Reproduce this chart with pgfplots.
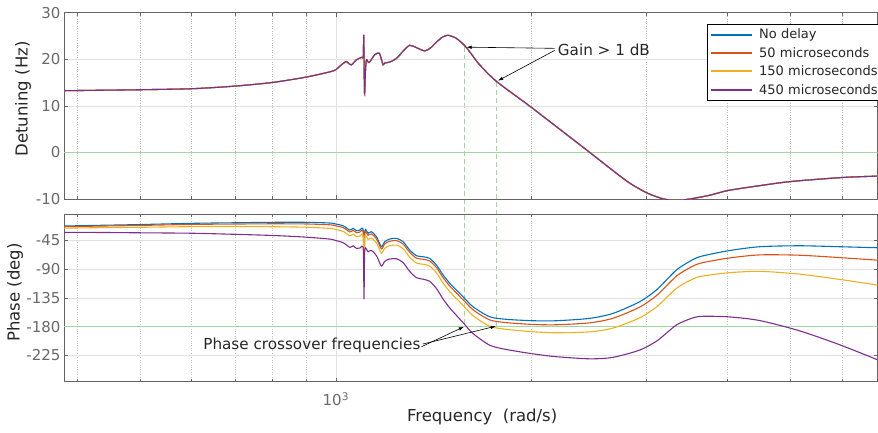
\documentclass[border=0pt]{standalone}
\usepackage{fontspec}
\setmainfont{DejaVu Sans}
\usepackage{pgfplots}
\pgfplotsset{compat=1.18}
\usepackage{pgfplotstable}
\usetikzlibrary{arrows.meta,backgrounds}

\definecolor{mblue}{RGB}{0,114,189}
\definecolor{morange}{RGB}{217,83,25}
\definecolor{myellow}{RGB}{237,177,32}
\definecolor{mpurple}{RGB}{126,47,142}
\definecolor{frm}{RGB}{100,100,100}
\definecolor{tkl}{RGB}{105,105,105}
\definecolor{lbl}{RGB}{38,38,38}
\definecolor{grd}{RGB}{225,225,225}
\definecolor{gz}{RGB}{160,215,160}

% magnitude (all four delays give the same curve)
\pgfplotstableread{
f v
382.3 13.25
434 13.35
500 13.46
601 13.68
700 14.24
800 15.03
900 16.17
979 17.3
1000 17.76
1014 18.5
1036 19.5
1045 19.2
1057 18.8
1076 19.9
1095 20.4
1102 20.6
1104 25.1
1107 12.7
1111 18.0
1115 19.9
1125 19.3
1148 21.0
1166 21.3
1175 20.0
1182 18.8
1189 19.2
1210 19.4
1240 20.2
1270 21.8
1299 23.0
1330 22.5
1370 21.8
1400 22.5
1428 23.7
1460 24.8
1487 25.15
1510 24.9
1532 24.5
1560 23.6
1588 22.5
1620 20.9
1664 18.8
1766 15.24
2000 9.62
2456 0.0
2636 -3.37
2829 -6.59
3012 -8.74
3183 -9.95
3337 -10.3
3498 -10.0
3754 -9.2
4011 -8.16
4500 -7.1
5017 -6.23
6023 -5.37
6800 -5.09
}\magtab

% phase, deg
\pgfplotstableread{
f nd d50 d150 d450
382.3 -22.6 -23.7 -25.9 -32.5
434 -21.5 -22.7 -25.2 -32.7
500 -20.3 -21.7 -24.6 -33.2
601 -18.4 -20.1 -23.6 -33.9
700 -17.5 -19.5 -23.5 -35.6
800 -16.8 -19.1 -23.7 -37.4
900 -16.8 -19.4 -24.5 -40.0
979 -17.9 -20.7 -26.3 -43.1
1000 -19.5 -22.4 -28.1 -45.3
1026 -22.1 -25.0 -30.9 -48.6
1051 -28.9 -31.9 -37.9 -56.0
1063 -26.2 -29.3 -35.3 -53.6
1076 -30.0 -33.1 -39.3 -57.7
1089 -28.9 -32.0 -38.3 -57.0
1102 -30.5 -33.7 -40.0 -58.9
1105 -108.5 -111.7 -118.0 -137.0
1108 -31.5 -34.7 -41.0 -60.1
1121 -34.0 -37.2 -43.6 -62.9
1134 -31.5 -34.8 -41.3 -60.7
1155 -39.4 -42.7 -49.3 -69.2
1175 -55.0 -58.4 -65.1 -85.3
1189 -47.2 -50.6 -57.4 -77.9
1210 -43.0 -46.5 -53.4 -74.2
1240 -41.9 -45.5 -52.6 -73.9
1269 -47.2 -50.8 -58.1 -79.9
1299 -60.2 -63.9 -71.4 -93.7
1330 -69.1 -72.9 -80.5 -103.4
1362 -70.7 -74.6 -82.4 -105.8
1394 -73.2 -77.2 -85.2 -109.1
1428 -83.7 -87.8 -96.0 -120.5
1462 -99.3 -103.5 -111.9 -137.0
1497 -112.3 -116.6 -125.2 -150.9
1532 -122.8 -127.2 -136.0 -162.3
1569 -133.3 -137.8 -146.8 -173.8
1625 -148.9 -153.6 -162.9 -190.8
1724 -164.6 -169.5 -179.4 -209.1
1829 -168.6 -173.8 -184.3 -215.8
2011 -170.8 -176.6 -188.1 -222.7
2183 -170.8 -177.1 -189.6 -227.1
2456 -167.1 -174.1 -188.2 -230.4
2667 -159.3 -166.9 -182.2 -228.1
2931 -141.1 -149.5 -166.3 -216.7
3109 -122.8 -131.7 -149.5 -203.0
3221 -107.1 -116.3 -134.8 -190.2
3337 -91.5 -101.1 -120.2 -177.5
3457 -81.0 -90.9 -110.7 -170.1
3623 -70.7 -81.1 -101.8 -164.1
4011 -61.3 -72.8 -95.8 -164.7
4481 -55.0 -67.8 -93.5 -170.5
5161 -53.5 -68.3 -97.9 -186.6
5944 -55.0 -72.0 -106.1 -208.3
6800 -56.6 -76.1 -115.0 -231.9
}\phasetab

\pgfplotsset{
  every axis/.append style={
    scale only axis, width=813.5pt,
    xmode=log, xmin=382.3, xmax=6800,
    axis line style={frm, line width=0.8pt},
    tick style={frm, line width=0.6pt},
    major tick length=4pt, minor tick length=3pt,
    tick align=inside,
    xtick={1000},
    minor xtick={400,500,600,700,800,900,2000,3000,4000,5000,6000},
    xmajorgrids, xminorgrids, ymajorgrids,
    major grid style={grd, line width=0.6pt},
    minor grid style={grd!85!black, dotted, line width=0.6pt},
    ticklabel style={tkl, font=\fontsize{15}{18}\selectfont},
    label style={lbl, font=\fontsize{16.5}{19}\selectfont},
  },
  every axis plot/.append style={line width=1.1pt, smooth, tension=0.45},
}
\tikzset{
  annot/.style={black, line width=0.6pt, -{Latex[length=5pt,width=3.5pt]}},
  txt/.style={lbl, inner sep=0pt, font=\fontsize{15.2}{18}\selectfont},
  zline/.style={gz, line width=0.8pt},
  legtxt/.style={lbl, inner sep=0pt, anchor=west, font=\fontsize{13}{16}\selectfont},
}

\begin{document}
\begin{tikzpicture}
\begin{axis}[at={(64pt,233pt)}, anchor=south west, height=186.3pt,
  ymin=-10, ymax=30, ytick={-10,0,10,20,30}, yticklabels={-10,0,10,20,30},
  xticklabels={},
  ylabel={Detuning (Hz)},
  ylabel style={at={(axis description cs:-0.0504,0.537)}, anchor=center},
]
\draw[zline] (axis cs:300,0) -- (axis cs:8000,0);
\addplot[mblue] table[x=f, y=v] {\magtab};
\addplot[morange] table[x=f, y=v] {\magtab};
\addplot[myellow] table[x=f, y=v] {\magtab};
\addplot[mpurple] table[x=f, y=v] {\magtab};
\coordinate (g1) at (axis cs:1578,22.6);
\coordinate (g2) at (axis cs:1767,15.2);
\draw[annot] (axis cs:2169,22.35) -- (axis cs:1589,22.6);
\draw[annot] (axis cs:2169,21.9) -- (axis cs:1776,15.4);
\node[txt, anchor=west] at (axis cs:2193,22.0) {Gain > 1 dB};
\end{axis}

\begin{axis}[at={(64pt,50.3pt)}, anchor=south west, height=167.7pt,
  ymin=-266.2, ymax=-3.8,
  ytick={-225,-180,-135,-90,-45}, yticklabels={-225,-180,-135,-90,-45},
  xticklabels={10\textsuperscript{3}},
  xticklabel style={yshift=-7pt},
  ylabel={Phase (deg)},
  ylabel style={at={(axis description cs:-0.0602,0.532)}, anchor=center},
  xlabel={Frequency\ \ (rad/s)},
  xlabel style={at={(axis description cs:0.514,-0.209)}, anchor=center},
]
\draw[zline] (axis cs:300,-180) -- (axis cs:8000,-180);
\addplot[mblue] table[x=f, y=nd] {\phasetab};
\addplot[morange] table[x=f, y=d50] {\phasetab};
\addplot[myellow] table[x=f, y=d150] {\phasetab};
\addplot[mpurple] table[x=f, y=d450] {\phasetab};
\coordinate (p1) at (axis cs:1578,-180);
\coordinate (p2) at (axis cs:1767,-180);
\draw[annot] (axis cs:1354,-211.5) -- (axis cs:1573,-180.4);
\draw[annot] (axis cs:1360,-207.3) -- (axis cs:1761,-179.4);
\node[txt, anchor=east] at (axis cs:1350,-208.5) {Phase crossover frequencies};
\end{axis}

\begin{scope}[on background layer]
\draw[gz, line width=0.8pt, dash pattern=on 5pt off 3pt] (g1) -- (p1);
\draw[gz, line width=0.8pt, dash pattern=on 5pt off 3pt] (g2) -- (p2);
\end{scope}

% legend box (its right side runs past the page edge, as in the reference)
\draw[black, line width=0.7pt, fill=white] (707pt,408pt) rectangle (900pt,332pt);
\draw[mblue, line width=1.2pt] (711pt,397pt) -- (752pt,397pt);
\draw[morange, line width=1.2pt] (711pt,379pt) -- (752pt,379pt);
\draw[myellow, line width=1.2pt] (711pt,361pt) -- (752pt,361pt);
\draw[mpurple, line width=1.2pt] (711pt,342pt) -- (752pt,342pt);
\node[legtxt] at (759pt,397pt) {No delay};
\node[legtxt] at (759pt,379pt) {50 microseconds};
\node[legtxt] at (759pt,361pt) {150 microseconds};
\node[legtxt] at (759pt,342pt) {450 microseconds};

\pgfresetboundingbox
\path (0,0) rectangle (878pt,432pt);
\end{tikzpicture}
\end{document}
